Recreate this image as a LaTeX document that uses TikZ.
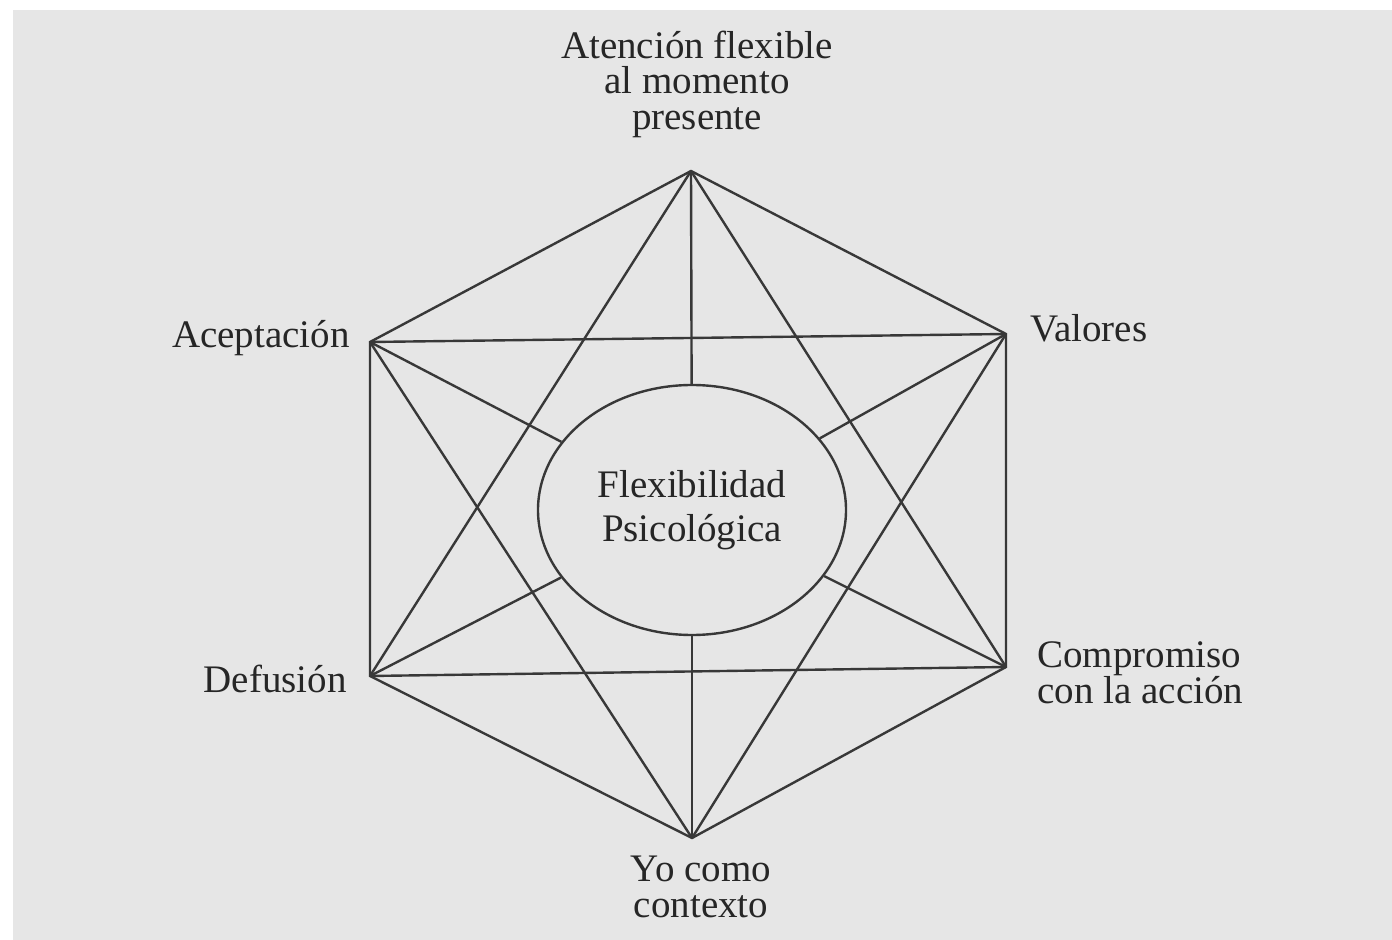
\documentclass[tikz,border=0pt]{standalone}
\usepackage{fontspec}
\setmainfont{Liberation Serif}
\usepackage{tikz}
\usetikzlibrary{positioning,shapes.geometric}
\definecolor{hexgray}{HTML}{E6E6E6}
\definecolor{hexline}{HTML}{383838}
\definecolor{hextext}{HTML}{262626}

\begin{document}
\begin{tikzpicture}[x=0.5pt, y=-0.5pt,
  edge/.style={draw=hexline, line width=1.2pt},
  lbl/.style={font=\fontsize{19.5}{17.75}\selectfont, text=hextext, inner sep=0pt, align=center},
  core/.style={ellipse, draw=hexline, line width=1.2pt, minimum width=154pt, minimum height=125pt,
    font=\fontsize{19.5}{22}\selectfont, text=hextext, align=center}
]
  \useasboundingbox (0,0) rectangle (1392,940);
  \fill[hexgray] (13,10) rectangle (1392,940);

  \coordinate (T) at (691,171);
  \coordinate (V) at (1006,334);
  \coordinate (C) at (1006,667);
  \coordinate (B) at (692,838);
  \coordinate (D) at (370,676);
  \coordinate (A) at (370,342);

  \node[core] (flex) at (692,510) {Flexibilidad\\Psicológica};

  \draw[edge] (T) -- (V) -- (C) -- (B) -- (D) -- (A) -- cycle;
  \draw[edge] (T) -- (C);
  \draw[edge] (T) -- (D);
  \draw[edge] (V) -- (B);
  \draw[edge] (V) -- (A);
  \draw[edge] (C) -- (D);
  \draw[edge] (B) -- (A);
  \draw[edge] (T) -- (flex);
  \draw[edge] (V) -- (flex);
  \draw[edge] (C) -- (flex);
  \draw[edge] (B) -- (flex);
  \draw[edge] (D) -- (flex);
  \draw[edge] (A) -- (flex);

  \node[lbl, above=16.5pt of T, xshift=3pt] (tlbl) {Atención flexible\\al momento\\presente};
  \node[lbl, right=12pt of V, yshift=3pt] (vlbl) {Valores};
  \node[lbl, right=15.5pt of C, yshift=-3pt, align=left] (clbl) {Compromiso\\con la acción};
  \node[lbl, below=9pt of B, xshift=4.5pt] (blbl) {Yo como\\contexto};
  \node[lbl, left=11.5pt of D, yshift=-1.5pt] (dlbl) {Defusión};
  \node[lbl, left=10pt of A, yshift=2pt] (albl) {Aceptación};
\end{tikzpicture}
\end{document}
